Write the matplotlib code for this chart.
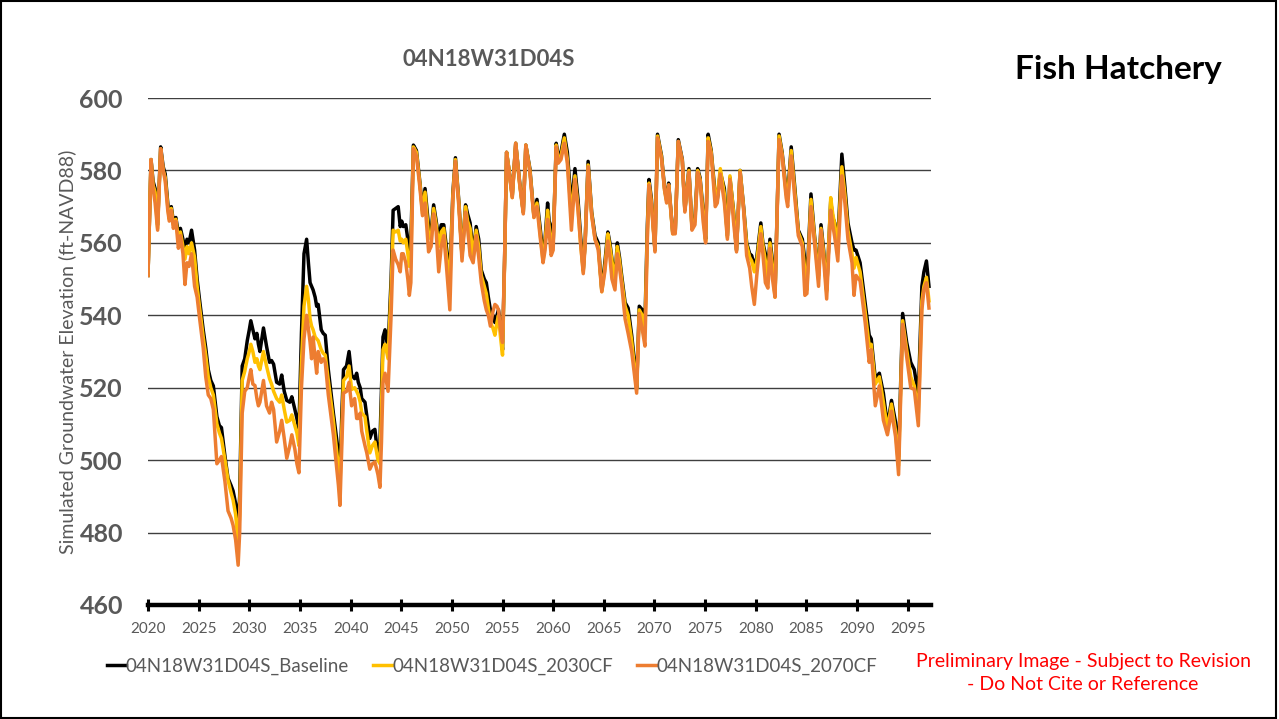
import matplotlib
matplotlib.use("Agg")
import matplotlib.pyplot as plt
from matplotlib.patches import Rectangle

# simulated heads at 04N18W31D04S, three climate scenarios
years = [
    2020.0, 2020.3, 2020.5, 2020.7, 2020.95, 2021.25, 2021.5, 2021.7, 2021.95, 2022.1,
    2022.3, 2022.5, 2022.75, 2023.0, 2023.2, 2023.45, 2023.65, 2023.85, 2024.05, 2024.3,
    2024.6, 2024.85, 2025.1, 2025.45, 2025.7, 2025.95, 2026.2, 2026.45, 2026.8, 2027.05,
    2027.25, 2027.6, 2027.9, 2028.2, 2028.4, 2028.65, 2028.9, 2029.05, 2029.3, 2029.55,
    2029.8, 2030.0, 2030.15, 2030.35, 2030.56, 2030.75, 2030.9, 2031.05, 2031.4, 2031.7,
    2032.0, 2032.2, 2032.4, 2032.7, 2033.0, 2033.2, 2033.45, 2033.7, 2034.0, 2034.2,
    2034.5, 2034.7, 2034.9, 2035.15, 2035.4, 2035.66, 2035.85, 2036.0, 2036.15, 2036.3,
    2036.5, 2036.65, 2036.8, 2037.1, 2037.3, 2037.5, 2037.8, 2038.3, 2038.8, 2038.95,
    2039.15, 2039.3, 2039.6, 2039.85, 2040.1, 2040.4, 2040.6, 2040.76, 2040.95, 2041.1,
    2041.42, 2041.6, 2041.9, 2042.15, 2042.4, 2042.7, 2042.9, 2043.05, 2043.2, 2043.4,
    2043.7, 2044.0, 2044.2, 2044.45, 2044.7, 2044.9, 2045.05, 2045.2, 2045.45, 2045.65,
    2045.8, 2045.95, 2046.2, 2046.5, 2046.85, 2047.1, 2047.35, 2047.7, 2047.95, 2048.2,
    2048.45, 2048.7, 2048.95, 2049.2, 2049.45, 2049.8, 2050.1, 2050.35, 2050.7, 2051.0,
    2051.35, 2051.55, 2051.8, 2052.1, 2052.4, 2052.65, 2052.9, 2053.2, 2053.4, 2053.6,
    2053.8, 2054.05, 2054.25, 2054.45, 2054.6, 2054.8, 2055.0, 2055.2, 2055.4, 2055.65,
    2055.96, 2056.3, 2056.7, 2057.05, 2057.3, 2057.7, 2058.1, 2058.4, 2058.7, 2059.0,
    2059.2, 2059.45, 2059.6, 2059.8, 2060.0, 2060.3, 2060.5, 2060.77, 2061.1, 2061.4,
    2061.8, 2062.15, 2062.45, 2062.7, 2062.97, 2063.15, 2063.45, 2063.8, 2064.13, 2064.45,
    2064.8, 2065.1, 2065.4, 2065.6, 2065.8, 2066.1, 2066.33, 2066.55, 2066.76, 2067.1,
    2067.4, 2067.75, 2068.0, 2068.24, 2068.5, 2068.8, 2069.06, 2069.3, 2069.46, 2069.7,
    2070.05, 2070.3, 2070.7, 2071.0, 2071.2, 2071.4, 2071.8, 2072.05, 2072.35, 2072.75,
    2073.0, 2073.4, 2073.7, 2074.0, 2074.26, 2074.5, 2074.8, 2075.05, 2075.3, 2075.6,
    2076.0, 2076.2, 2076.5, 2076.9, 2077.2, 2077.45, 2077.8, 2078.1, 2078.45, 2078.8,
    2079.1, 2079.4, 2079.6, 2079.86, 2080.1, 2080.5, 2080.7, 2080.95, 2081.2, 2081.4,
    2081.65, 2081.9, 2082.3, 2082.6, 2083.0, 2083.15, 2083.5, 2083.8, 2084.2, 2084.6,
    2084.85, 2085.05, 2085.45, 2085.8, 2086.2, 2086.44, 2086.7, 2087.0, 2087.4, 2087.6,
    2087.8, 2088.1, 2088.5, 2088.8, 2089.1, 2089.5, 2089.7, 2089.9, 2090.3, 2090.8,
    2091.2, 2091.4, 2091.8, 2092.2, 2092.6, 2093.0, 2093.4, 2093.8, 2094.1, 2094.5,
    2094.9, 2095.3, 2095.65, 2096.05, 2096.4, 2096.6, 2096.85, 2097.1,
]

baseline = [
    551, 583, 577, 575, 565, 586.5, 581, 579, 571, 567,
    570, 566, 567, 562.5, 564, 561, 558, 561, 560, 563.5,
    558, 550, 544, 536, 531, 525, 522, 520.5, 512, 509.5,
    509, 501, 495, 493, 491.5, 488, 482, 490, 526, 528,
    533, 536, 538.5, 536, 533.5, 535, 532, 530, 536.5, 531.5,
    527, 527.5, 526.5, 521.5, 521, 523.5, 519, 516.5, 516, 517.5,
    514, 511.5, 508.5, 535, 557, 561, 554, 549, 548, 547,
    545, 542.5, 543, 536, 535, 534.5, 525, 513, 502, 496,
    514, 525, 526, 530, 523.5, 522.5, 524, 521.5, 520, 517,
    516, 512.3, 506, 508, 508.5, 501, 505, 520, 534, 536,
    530.5, 550, 569, 569.5, 570, 564.5, 566, 564.5, 565, 561,
    558, 560, 587, 585.5, 576.5, 569, 575, 564.5, 563, 570.5,
    566, 561, 565, 565, 559, 551, 574, 583.5, 571, 556.5,
    570.5, 568, 565.5, 557, 564.5, 561, 552.5, 550, 549, 545,
    541.5, 540, 538, 540, 541.5, 537, 530.5, 555, 585, 580,
    573, 587.5, 576.5, 568.5, 587, 580.5, 567.5, 572, 564.5, 556.5,
    561, 571, 566, 564.5, 560, 587.5, 584, 585, 590, 585,
    570, 580.5, 572, 562, 552.5, 560, 582.5, 568.5, 562, 560,
    547, 554.5, 563, 560, 555.5, 550, 560, 556, 551, 543.5,
    542, 534.5, 528, 520, 542.5, 541.5, 538, 565, 577.5, 572,
    558, 590, 584, 575, 572, 576.5, 563, 563, 588.5, 583,
    569, 580.5, 564.5, 567, 580.5, 578, 569, 561, 590, 585.5,
    573, 572, 579.5, 575, 562, 578, 569, 558, 580, 570,
    560, 557, 556.5, 553.5, 556, 565.5, 560, 557, 552, 561,
    555, 545.5, 590, 585, 574.5, 573, 586.5, 577, 563.5, 561,
    555, 549, 573.5, 562, 551, 565, 558, 547, 571.5, 567,
    565.5, 560, 584.5, 575.5, 565.5, 560, 558, 558, 554.5, 543.5,
    534.5, 533.5, 522.5, 524, 518.5, 509.5, 516.5, 510.5, 501, 540.5,
    532.5, 527, 525, 518, 548, 552, 555, 548,
]

cf_2030 = [
    551, 583, 576, 574, 564, 586, 580, 578, 570, 566.5,
    569.5, 565, 566.5, 561, 563, 559, 555.5, 559, 557, 560,
    556, 548, 542, 534, 529, 523, 520, 518, 510, 507.5,
    506, 500, 494.5, 491, 489, 485, 477, 485, 522, 524.5,
    528, 530, 532, 530, 527, 528, 526, 525, 530, 526,
    522.5, 521, 519, 517, 516, 518, 514, 510.5, 511, 512.5,
    509.5, 507.5, 504, 527, 542.5, 548, 544, 539, 537, 536,
    534, 533.5, 533, 530.5, 529.5, 529, 522, 511, 498, 493,
    510, 522, 523, 526, 519.5, 520, 519, 518, 516, 513,
    512, 508, 502, 504, 505, 500, 499, 515, 530.5, 532,
    528, 547, 563.5, 563, 563.5, 560.5, 561, 560, 561, 557,
    553.5, 556, 586.5, 585, 576, 568, 574, 562, 561, 569.5,
    565, 559, 563, 564, 557, 549, 573, 583, 570.5, 556,
    570, 566, 564, 556, 563.5, 559, 551, 548, 546, 542,
    538, 536.5, 534.5, 538, 540, 534, 529, 554, 585, 580,
    572.5, 587.5, 576, 568.5, 587, 580, 567, 571, 563, 555,
    560, 569, 564.5, 560, 560, 587, 583, 584, 589, 583,
    567, 578.5, 570, 560, 552, 560, 581.5, 568, 561, 559,
    546.5, 553, 562.5, 559, 555, 549.5, 559, 555, 550, 542.5,
    540, 533, 526, 519.5, 541.5, 540, 536, 563, 576.5, 571,
    558, 589.5, 583.5, 574.5, 571.5, 576, 562.5, 563, 588, 582.5,
    569, 580, 564, 566, 580, 577.5, 568, 560.5, 589, 585,
    572, 573, 580.5, 573.5, 561.5, 578.5, 568.5, 558, 580, 569.5,
    559.5, 556, 555, 552, 555, 564.5, 559.5, 555, 550, 560,
    553.5, 545, 589.5, 584.5, 573.5, 572, 585.5, 576, 563, 560,
    552, 547, 572, 561.5, 550, 564, 557, 546.5, 572.5, 568,
    565, 559, 581, 573.5, 563.5, 557, 553, 556, 552, 541,
    531.5, 532, 521, 523, 516, 508.5, 515.5, 508, 498.5, 538.5,
    530.5, 523, 520.5, 513, 544, 548, 550.5, 544,
]

cf_2070 = [
    551, 583, 575, 571, 563.5, 586, 580, 577, 569, 566,
    569, 564, 566, 558.5, 562, 557, 548.5, 554.5, 553.5, 557,
    548, 545, 539, 531, 523, 518, 517, 514, 499, 500,
    501, 494, 486, 484, 482, 478, 471, 480, 513, 519,
    520, 523, 525, 521, 520.6, 517, 515, 516, 522, 515,
    513, 516, 514, 505, 508, 511, 506, 500.5, 504, 507,
    503, 499, 496.5, 520, 533.5, 540, 536, 532.5, 528, 534,
    528, 524, 530, 527, 528, 527, 518, 507, 493, 487.5,
    505, 518.5, 519, 521.5, 515, 517, 511.5, 511.5, 513, 508,
    504, 502, 497.5, 499, 499.5, 496, 492.5, 505, 521.5, 524,
    519, 540, 558, 555.5, 554, 552, 557, 557, 554.5, 550,
    545.5, 549, 586, 584, 575, 567.5, 571, 557.5, 559, 568,
    563, 552, 559, 562, 554, 541.5, 572, 582.5, 569.5, 555,
    568.5, 564, 556.5, 554.5, 562, 556, 549, 544, 541.5, 540,
    537, 541, 543, 542.5, 541.5, 536, 532.5, 555, 585, 579.5,
    572.5, 587.5, 576, 568, 587, 579.5, 567, 570, 562, 554.5,
    558, 566.5, 563, 556.5, 558, 586.5, 582, 583, 587.5, 582,
    563.5, 577.5, 569, 560, 551.5, 559, 581, 567.5, 561, 558,
    546.5, 552, 560.5, 556, 550, 547, 557, 553, 548.5, 539,
    535, 530, 524, 518.5, 540.5, 536, 531.5, 561, 576, 570.5,
    557.5, 589, 583, 574.5, 571, 576, 562.5, 562.5, 588, 582.5,
    568.5, 579.5, 563.5, 565, 579.5, 577, 566, 560, 588, 584.5,
    570, 571, 579, 571, 561, 577.5, 566, 557.5, 579.5, 569,
    556.5, 553, 548, 543, 551, 562.5, 557, 549, 547.5, 558.5,
    550, 545, 588.5, 584, 572.5, 570, 584, 574, 562, 559,
    545.5, 546, 570, 560, 548, 563.5, 555.5, 544.5, 569, 565,
    561.5, 555, 578.5, 571, 561, 554.5, 545.5, 551, 549.5, 538,
    527, 530.5, 515, 520.5, 511, 507, 513.5, 506.5, 496, 537.5,
    528.5, 520, 519.5, 509.5, 541.5, 547, 549, 542,
]

series_names = ["04N18W31D04S_Baseline", "04N18W31D04S_2030CF", "04N18W31D04S_2070CF"]
series_colors = ["#000000", "#FFC000", "#ED7D31"]
year_ticks = list(range(2020, 2100, 5))
elev_ticks = list(range(460, 620, 20))

plt.rcParams["font.family"] = ["Lato", "DejaVu Sans"]
GREY = "#595959"

fig = plt.figure(figsize=(12.79, 7.19), dpi=100)
ax = fig.add_axes([148 / 1279, 1 - 605 / 719, (931 - 148) / 1279, (605 - 98) / 719])

for vals, name, col in zip([baseline, cf_2030, cf_2070], series_names, series_colors):
    ax.plot(years, vals, color=col, lw=2.5, label=name, solid_joinstyle="round")

ax.set_xlim(2020, 2097.3)
ax.set_ylim(460, 600)
ax.set_yticks(elev_ticks)
ax.set_xticks(year_ticks)
ax.set_xticklabels([str(y) for y in year_ticks], color=GREY, fontsize=11)
ax.set_yticklabels([str(v) for v in elev_ticks], color=GREY, fontsize=18, fontweight="bold")
ax.tick_params(axis="y", length=0, pad=18)
ax.tick_params(axis="x", direction="inout", length=9, width=2.2, color="black", pad=8)
ax.grid(axis="y", color="#3f3f3f", lw=1.0)
ax.set_axisbelow(True)
for side in ["top", "right", "left"]:
    ax.spines[side].set_visible(False)
ax.spines["bottom"].set_linewidth(3.2)
ax.spines["bottom"].set_zorder(5)

ax.set_ylabel("Simulated Groundwater Elevation (ft-NAVD88)", color=GREY, fontsize=14)
ax.yaxis.set_label_coords(-0.092, 0.5)

fig.text(489 / 1279, 1 - 59 / 719, "04N18W31D04S", ha="center", va="center",
         fontsize=16, fontweight="bold", color=GREY)
fig.text(1118 / 1279, 1 - 70 / 719, "Fish Hatchery", ha="center", va="center",
         fontsize=24, fontweight="bold", color="black")

fig.legend(loc="center", bbox_to_anchor=(492 / 1279, 1 - 666 / 719), ncol=3,
           frameon=False, handlelength=1.0, handletextpad=0.0, columnspacing=1.3,
           fontsize=13.5, labelcolor=GREY)

fig.text(1083 / 1279, 1 - 673 / 719,
         "Preliminary Image - Subject to Revision\n- Do Not Cite or Reference",
         ha="center", va="center", color="red", fontsize=14, linespacing=1.5)

fig.patches.append(Rectangle((0.001, 0.002), 0.997, 0.996, transform=fig.transFigure,
                             fill=False, edgecolor="black", lw=1.5))

fig.savefig("out.png", dpi=100)
